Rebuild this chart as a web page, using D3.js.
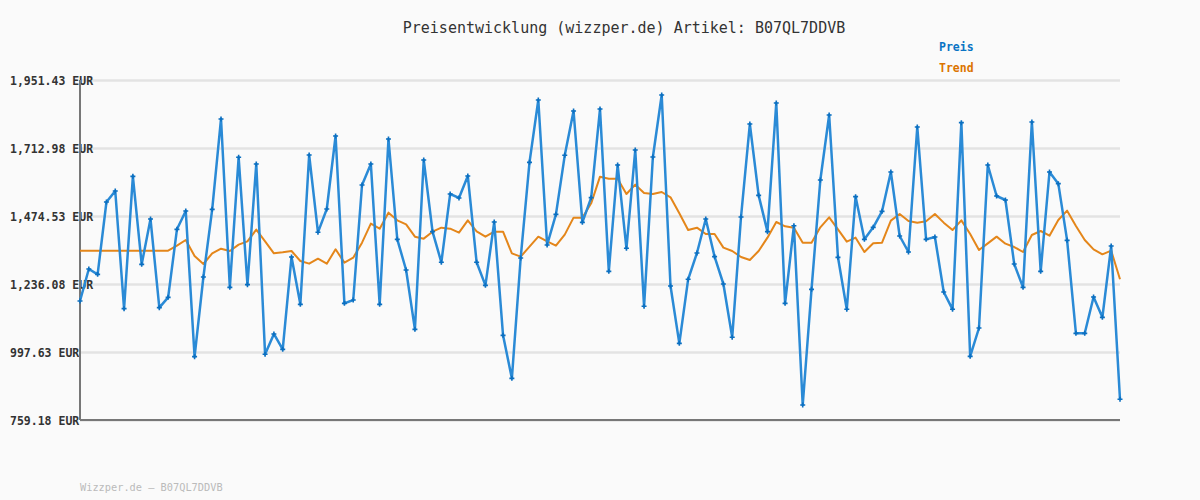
<!DOCTYPE html>
<html><head><meta charset="utf-8">
<script src="https://cdn.jsdelivr.net/npm/d3@7"></script>
<style>html,body{margin:0;padding:0;background:#fafafa;}svg{display:block;}</style>
</head><body>
<script>
const titleText = "Preisentwicklung (wizzper.de) Artikel: B07QL7DDVB";
const footerText = "Wizzper.de \u2013 B07QL7DDVB";
const tickValues = [759.18, 997.63, 1236.08, 1474.53, 1712.98, 1951.43];
const tickLabels = ["759.18 EUR", "997.63 EUR", "1,236.08 EUR", "1,474.53 EUR", "1,712.98 EUR", "1,951.43 EUR"];
const seriesNames = ["Preis", "Trend"];
const preis = [
1176.5,1288.7,1270.0,1523.6,1562.2,1149.6,1613.6,1305.0,1464.0,1153.1,
1189.3,1427.8,1492.1,981.3,1260.6,1497.9,1814.7,1224.4,1680.3,1233.8,
1656.9,989.5,1060.8,1007.0,1330.8,1164.8,1688.4,1417.3,1499.1,1755.1,
1168.3,1180.0,1583.2,1656.9,1164.8,1744.5,1392.7,1285.2,1077.1,1670.9,
1419.6,1312.1,1551.7,1537.7,1614.8,1312.1,1231.4,1453.5,1056.1,905.3,
1327.3,1662.7,1881.3,1372.8,1480.4,1687.3,1842.7,1452.3,1538.8,1849.7,
1280.5,1653.4,1361.2,1706.0,1157.8,1681.4,1898.8,1229.1,1028.0,1252.5,
1344.8,1464.0,1331.9,1236.1,1049.1,1471.0,1797.1,1547.0,1419.6,1870.8,
1168.3,1440.6,811.8,1217.4,1600.8,1828.7,1329.6,1147.3,1542.3,1392.7,
1434.8,1490.9,1628.8,1404.4,1348.3,1786.6,1392.7,1400.9,1208.0,1147.3,
1801.8,982.4,1081.8,1653.4,1544.7,1530.6,1306.2,1224.4,1804.2,1280.5,
1628.8,1587.9,1389.2,1063.1,1063.1,1190.5,1119.2,1369.3,831.7
];
const trend = [
1353.0,1353.0,1353.0,1353.0,1353.0,1353.0,1353.0,1353.0,1353.0,1353.0,
1353.0,1370.5,1390.4,1334.3,1306.2,1343.6,1360.0,1351.8,1374.0,1385.7,
1426.6,1385.7,1343.6,1347.1,1351.8,1316.7,1307.4,1324.9,1307.4,1357.7,
1310.9,1328.4,1381.0,1447.7,1430.1,1486.2,1459.3,1445.3,1402.1,1395.1,
1419.6,1433.6,1430.1,1416.1,1459.3,1420.8,1402.1,1419.6,1419.6,1343.6,
1331.9,1367.0,1402.1,1385.7,1370.5,1409.1,1468.7,1468.7,1519.0,1612.5,
1605.5,1605.5,1551.7,1584.4,1555.2,1551.7,1558.7,1540.0,1483.9,1425.4,
1433.6,1411.4,1411.4,1363.5,1351.8,1330.8,1320.2,1351.8,1398.6,1453.5,
1438.3,1433.6,1381.0,1381.0,1434.8,1469.9,1427.8,1384.5,1398.6,1348.3,
1378.7,1381.0,1458.2,1481.6,1457.0,1451.2,1455.8,1481.6,1451.2,1425.4,
1459.3,1411.4,1355.3,1378.7,1402.1,1377.5,1365.8,1348.3,1407.9,1421.9,
1405.6,1460.5,1493.2,1439.5,1390.4,1357.7,1340.1,1353.0,1252.5
];

const W = 1200, H = 500;
const m = {left: 80, right: 80, top: 80, bottom: 80};
const svg = d3.select("body").append("svg").attr("width", W).attr("height", H)
  .style("background", "#fafafa");
const font = "'DejaVu Sans Mono', 'Liberation Mono', monospace";

const x = d3.scaleLinear().domain([0, preis.length - 1]).range([m.left, W - m.right]);
const y = d3.scaleLinear().domain([tickValues[0], tickValues[tickValues.length - 1]]).range([H - m.bottom, m.top]);

// grid
const grid = d3.axisLeft(y).tickValues(tickValues).tickSize(-(W - m.left - m.right)).tickFormat("");
svg.append("g").attr("transform", `translate(${m.left},0)`).call(grid)
  .call(g => g.select(".domain").remove())
  .call(g => g.selectAll(".tick line").attr("stroke", "#e3e3e3").attr("stroke-width", 2.5));

// y labels
const yl = d3.axisLeft(y).tickValues(tickValues).tickSize(0).tickFormat((d, i) => tickLabels[i]);
svg.append("g").attr("transform", `translate(10,0)`).call(yl)
  .call(g => g.select(".domain").remove())
  .call(g => g.selectAll(".tick text").attr("text-anchor", "start").attr("x", 0).attr("dy", "0.35em")
    .attr("font-family", font).attr("font-size", 11.5).attr("font-weight", "bold").attr("fill", "#333"));

// axes lines
svg.append("line").attr("x1", m.left).attr("x2", m.left).attr("y1", m.top).attr("y2", H - m.bottom)
  .attr("stroke", "#777").attr("stroke-width", 2);
svg.append("line").attr("x1", m.left).attr("x2", W - m.right).attr("y1", H - m.bottom).attr("y2", H - m.bottom)
  .attr("stroke", "#777").attr("stroke-width", 2);

// trend line
const line = d3.line().x((d, i) => x(i)).y(d => y(d));
svg.append("path").datum(trend).attr("d", line).attr("fill", "none")
  .attr("stroke", "#e4861a").attr("stroke-width", 2).attr("stroke-linejoin", "round");

// price line
svg.append("path").datum(preis).attr("d", line).attr("fill", "none")
  .attr("stroke", "#2a8ad6").attr("stroke-width", 2.5).attr("stroke-linejoin", "round");

// markers
const mk = svg.append("g");
preis.forEach((v, i) => {
  const cx = x(i), cy = y(v);
  mk.append("path").attr("d", `M${cx-2.5},${cy}L${cx+2.5},${cy}M${cx},${cy-2.5}L${cx},${cy+2.5}`)
    .attr("stroke", "#0b6fc0").attr("stroke-width", 1.6);
});

// title
svg.append("text").attr("x", 624).attr("y", 33).attr("text-anchor", "middle")
  .attr("font-family", font).attr("font-size", 15).attr("fill", "#333").text(titleText);

// legend
const legColors = ["#0a74c4", "#dc7400"];
seriesNames.forEach((n, i) => {
  svg.append("text").attr("x", 939).attr("y", 51 + i * 20.5)
    .attr("font-family", font).attr("font-size", 11.5).attr("font-weight", "bold")
    .attr("fill", legColors[i]).text(n);
});

// footer
svg.append("text").attr("x", 80).attr("y", 491).attr("font-family", font).attr("font-size", 10.3)
  .attr("fill", "#bbb").text(footerText);
</script>
</body></html>
